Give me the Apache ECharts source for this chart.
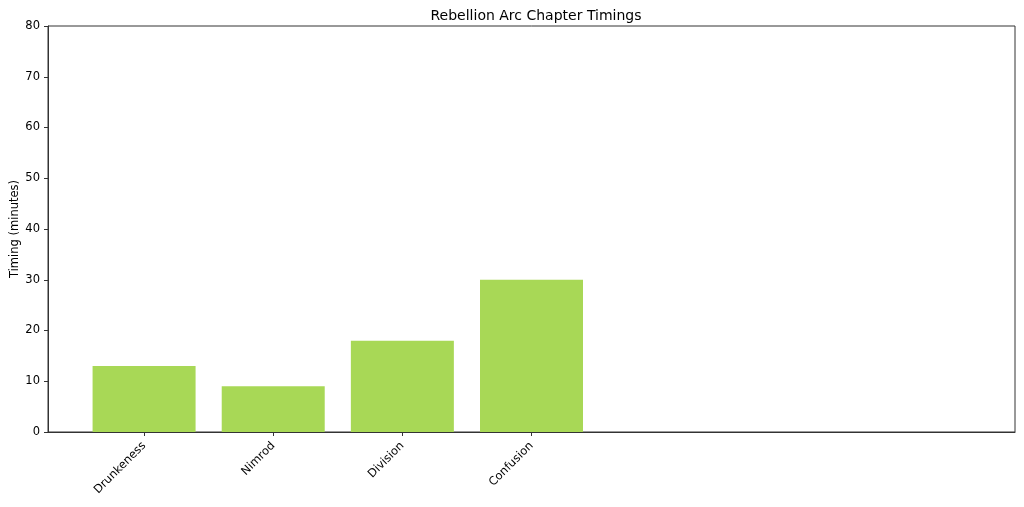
<!DOCTYPE html>
<html>
<head>
<meta charset="utf-8">
<script src="https://cdn.jsdelivr.net/npm/echarts@6/dist/echarts.min.js"></script>
<style>
html, body { margin: 0; padding: 0; background: #fff; }
#main { width: 1024px; height: 507px; }
</style>
</head>
<body>
<div id="main"></div>
<script>
// chapter names and timings (minutes)
var chapters = ['Drunkeness', 'Nimrod', 'Division', 'Confusion'];
var timings = [13, 9, 18, 30];
var yTicks = [0, 10, 20, 30, 40, 50, 60, 70, 80];

var chart = echarts.init(document.getElementById('main'));

var positions = chapters.map(function (c, i) { return i; });
var barData = timings.map(function (v, i) { return [i, v]; });

var option = {
    backgroundColor: '#fff',
    animation: false,
    title: {
        text: 'Rebellion Arc Chapter Timings',
        left: 531,
        textAlign: 'center',
        top: 4,
        textStyle: {
            fontFamily: 'DejaVu Sans',
            fontSize: 14,
            fontWeight: 'normal',
            color: '#000'
        }
    },
    grid: {
        left: 48,
        right: 9,
        top: 26,
        bottom: 75,
        show: true,
        borderColor: '#333',
        borderWidth: 1,
        containLabel: false,
        outerBoundsMode: 'none'
    },
    xAxis: {
        type: 'value',
        min: -0.744,
        max: 6.744,
        splitLine: { show: false },
        axisLine: { show: true, onZero: false, lineStyle: { color: '#333' } },
        axisTick: {
            show: true,
            customValues: positions,
            length: 4,
            lineStyle: { color: '#333' }
        },
        axisLabel: {
            customValues: positions,
            rotate: 45,
            margin: 12,
            fontFamily: 'DejaVu Sans',
            fontSize: 11.5,
            color: '#000',
            formatter: function (v) { return chapters[Math.round(v)] || ''; }
        }
    },
    yAxis: {
        type: 'value',
        min: yTicks[0],
        max: yTicks[yTicks.length - 1],
        interval: 10,
        name: 'Timing (minutes)',
        nameLocation: 'middle',
        nameGap: 27,
        nameMoveOverlap: false,
        nameTextStyle: {
            fontFamily: 'DejaVu Sans',
            fontSize: 11.5,
            color: '#000'
        },
        splitLine: { show: false },
        axisLine: { show: true, onZero: false, lineStyle: { color: '#333' } },
        axisTick: { show: true, length: 4, lineStyle: { color: '#333' } },
        axisLabel: {
            margin: 8,
            fontFamily: 'DejaVu Sans',
            fontSize: 11.5,
            color: '#000'
        }
    },
    series: [{
        type: 'bar',
        data: barData,
        barWidth: 103,
        itemStyle: { color: '#a8d856' }
    }]
};

chart.setOption(option);
</script>
</body>
</html>
